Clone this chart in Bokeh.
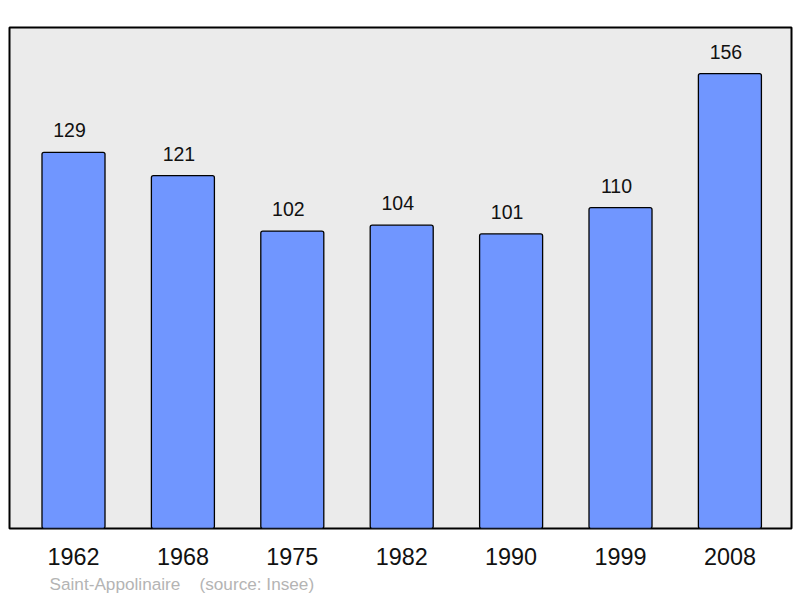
from bokeh.plotting import figure
from bokeh.models import Range1d, Title, ColumnDataSource
from bokeh.core.properties import value
from bokeh.embed import file_html
from bokeh.resources import INLINE

years = ["1962", "1968", "1975", "1982", "1990", "1999", "2008"]
population = [129, 121, 102, 104, 101, 110, 156]
caption = "Saint-Appolinaire\u00a0\u00a0\u00a0\u00a0(source: Insee)"

xs = list(range(len(years)))
src = ColumnDataSource(dict(x=xs, top=population, lab=[str(v) for v in population]))

p = figure(width=800, height=598, output_backend="svg", toolbar_location=None,
           x_range=Range1d(-0.585, -0.585 + 7.148), y_range=Range1d(0, 171.8),
           min_border_left=9, min_border_right=9, min_border_top=27, min_border_bottom=70)
p.background_fill_color = "#ebebeb"
p.border_fill_color = "white"
p.outline_line_color = "black"
p.outline_line_width = 2
p.xgrid.visible = False
p.ygrid.visible = False
p.yaxis.visible = False

p.vbar(x="x", top="top", bottom=0, width=0.576, source=src,
       fill_color="#7096ff", line_color="black", line_width=1.3, border_radius=2)
p.text(x="x", y="top", text="lab", source=src, text_align="center", text_baseline="alphabetic",
       x_offset=-4, y_offset=-22, text_font=value("Liberation Sans"), text_font_size="19.5px",
       text_color="#111111")

ax = p.xaxis[0]
ax.ticker = xs
ax.major_label_overrides = {i: y for i, y in enumerate(years)}
ax.axis_line_color = None
ax.major_tick_line_color = None
ax.minor_tick_line_color = None
ax.major_label_text_font = "Liberation Sans"
ax.major_label_text_font_size = "23.4px"
ax.major_label_text_color = "#111111"
ax.major_label_standoff = 13

p.add_layout(Title(text=caption, align="left", offset=40, standoff=9,
                   text_font="Liberation Sans", text_font_size="17.2px", text_font_style="normal",
                   text_color="#b4b4b4"), "below")

open("out.html", "w").write(file_html(p, INLINE))
